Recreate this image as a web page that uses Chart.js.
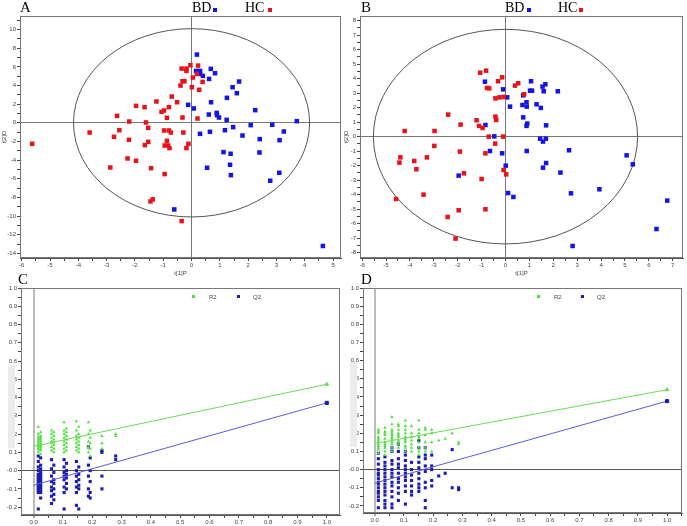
<!DOCTYPE html>
<html lang="en">
<head>
<meta charset="UTF-8">
<title>Score plots and permutation tests</title>
<script src="https://cdn.jsdelivr.net/npm/chart.js"></script>
<style>
    body {
        margin: 0;
        width: 687px;
        height: 526px;
        position: relative;
        overflow: hidden;
        background: #fff;
        font-family: "Liberation Sans", Arial, sans-serif;
    }
    canvas { position: absolute; }
    .panel {
        position: absolute;
        font-family: "Liberation Serif", "Times New Roman", serif;
        font-size: 15px;
        line-height: 15px;
        color: #000;
    }
    .leg {
        position: absolute;
        font-family: "Liberation Serif", "Times New Roman", serif;
        font-size: 14px;
        line-height: 14px;
        color: #000;
    }
    .sq { position: absolute; width: 4px; height: 4px; }
    .small { position: absolute; font-size: 6px; line-height: 6px; color: #444; }
    .mark { position: absolute; width: 3px; height: 3px; }
    .shade { position: absolute; background: #ececec; }
</style>
</head>
<body>
<canvas id="chartA" width="345" height="280" style="left:0;top:0"></canvas>
<canvas id="chartB" width="345" height="280" style="left:342px;top:0"></canvas>
<canvas id="chartC" width="345" height="264" style="left:0;top:262px"></canvas>
<canvas id="chartD" width="345" height="264" style="left:342px;top:262px"></canvas>

<!-- panel letters and legends -->
<div class="panel" style="left:20px;top:0">A</div>
<div class="leg" style="left:192px;top:1px">BD</div>
<div class="sq" style="left:213px;top:8px;background:#1414e6"></div>
<div class="leg" style="left:245px;top:1px">HC</div>
<div class="sq" style="left:268px;top:8px;background:#e6141a"></div>

<div class="panel" style="left:361px;top:0">B</div>
<div class="leg" style="left:505px;top:1px">BD</div>
<div class="sq" style="left:527px;top:8px;background:#1414e6"></div>
<div class="leg" style="left:558px;top:1px">HC</div>
<div class="sq" style="left:579px;top:8px;background:#e6141a"></div>

<div class="panel" style="left:18px;top:272px">C</div>
<div class="shade" style="left:8px;top:365px;width:7px;height:83px"></div>
<div class="mark" style="left:192px;top:295px;background:#55dd44"></div>
<div class="small" style="left:209px;top:294px">R2</div>
<div class="mark" style="left:237px;top:295px;background:#1c1cb0"></div>
<div class="small" style="left:253px;top:294px">Q2</div>

<div class="panel" style="left:361px;top:272px">D</div>
<div class="shade" style="left:350px;top:362px;width:7px;height:85px"></div>
<div class="mark" style="left:537px;top:295px;background:#55dd44"></div>
<div class="small" style="left:554px;top:294px">R2</div>
<div class="mark" style="left:581px;top:295px;background:#1c1cb0"></div>
<div class="small" style="left:597px;top:294px">Q2</div>

<script>
    // ---- A: score plot, [t1, t2] ----
    var aHC = [[-5.63,-2.25],[-3.60,-1.04],[-2.63,0.75],[-2.55,-0.79],[-2.74,-1.5],[-2.20,0.14],[-2.21,-1.82],
        [-1.96,1.82],[-1.66,1.68],[-1.61,0.04],[-1.53,-0.54],[-1.65,-2.39],[-1.53,-2.04],[-2.26,-3.82],
        [-1.96,-4.07],[-2.87,-4.79],[-1.43,-4.86],[-0.95,-5.5],[-1.45,-8.43],[-1.37,-8.21],[-0.35,-10.54],
        [-1.24,2.29],[-1.06,1.18],[-0.97,1.32],[-0.70,2.82],[-0.51,2.21],[-0.80,1.68],[-0.87,0.54],
        [-0.97,-0.82],[-0.80,-0.82],[-0.73,-1.04],[-0.87,-1.93],[-0.95,-2.43],[-0.83,-2.43],[-0.78,-2.71],
        [-0.29,-1.04],[-0.32,0.57],[-0.11,-2.25],[-0.18,-2.71],[-0.39,4.0],[-0.32,4.46],[-0.25,4.46],
        [-0.35,5.82],[-0.18,5.57],[-0.18,5.82],[-0.04,6.18],[0.23,6.14],[0.05,4.86],[0.01,3.82],
        [0.19,5.25],[0.39,4.39],[0.27,3.54],[0.21,0.46]];
    var aBD = [[0.19,7.32],[0.16,5.57],[0.30,5.57],[0.30,5.25],[0.40,5.04],[0.68,5.79],[0.83,5.32],
        [0.62,4.71],[1.45,3.82],[1.68,4.43],[1.60,3.18],[1.25,2.68],[0.69,2.21],[-0.12,1.93],[0.08,1.54],
        [0.61,0.89],[0.89,1.07],[0.90,0.82],[0.97,0.57],[1.24,0.32],[2.25,1.36],[2.09,-0.25],[2.85,-0.21],
        [3.72,0.18],[3.26,-0.93],[1.47,-0.46],[1.18,-0.79],[0.65,-0.96],[0.30,-1.18],[1.80,-1.36],
        [2.41,-1.75],[3.11,-1.86],[2.40,-3.18],[1.13,-3.14],[1.38,-3.32],[0.55,-4.82],[1.36,-4.5],
        [1.39,-5.61],[3.10,-5.36],[2.78,-6.21],[-0.61,-9.29],[4.64,-13.21]];
    var aEllipse = [4.17, 10.1];

    // ---- B: score plot ----
    var bHC = [[-4.58,-4.30],[-4.44,-1.79],[-4.40,-1.43],[-4.22,0.39],[-3.82,-1.68],[-3.73,-2.25],
        [-3.29,-1.43],[-3.43,-4.0],[-2.97,0.39],[-2.98,-0.64],[-2.40,1.52],[-1.88,0.83],[-1.91,-1.03],
        [-1.74,-2.53],[-1.96,-5.08],[-2.42,-5.54],[-2.09,-7.03],[-1.21,1.13],[-1.11,0.74],[-0.96,0.60],
        [-1.00,-2.92],[-0.84,-5.01],[-0.84,-1.15],[-0.70,0.0],[-0.43,-0.48],[-0.42,1.38],[-0.39,1.15],
        [-1.06,4.41],[-0.81,4.55],[-0.77,3.36],[-0.68,3.33],[-0.31,3.82],[-0.14,4.09],[-0.42,2.64],
        [-0.25,2.71],[-0.07,2.74],[-0.10,0.0],[-0.08,-2.30],[0.03,-2.60],[0.40,3.52],[0.53,3.68],[0.78,2.92]];
    var bBD = [[-0.86,3.79],[-0.10,3.26],[0.07,2.71],[0.19,2.07],[1.07,3.82],[1.03,3.17],[1.11,3.17],
        [1.67,3.61],[1.55,3.45],[1.60,3.13],[2.19,3.13],[0.74,2.85],[0.88,2.37],[0.71,2.18],[0.89,2.07],
        [1.30,2.23],[1.48,1.98],[0.74,1.33],[0.91,0.90],[0.88,0.74],[1.70,0.78],[-0.84,0.80],[-0.47,0.02],
        [-0.65,-0.99],[-0.14,-1.15],[0.89,-0.99],[1.45,-0.14],[1.57,-0.34],[1.69,-0.14],[2.66,-0.94],
        [1.70,-1.82],[1.57,-2.14],[0.01,-2.0],[-1.96,-2.69],[2.30,-2.48],[0.11,-3.89],[0.33,-4.16],
        [2.74,-3.91],[3.93,-3.63],[5.07,-1.29],[5.33,-1.91],[6.77,-4.41],[6.32,-6.37],[2.81,-7.54]];
    var bEllipse = [5.53, 7.4];

    // ---- C: permutation test (x = correlation of permuted y with original y) ----
    var cPermX = [0.016, 0.024, 0.061, 0.069, 0.104, 0.112, 0.146, 0.154, 0.187, 0.193, 0.233, 0.28];
    var cR2 = [
        [0.24,0.2,0.185,0.175,0.165,0.155,0.145,0.135,0.125,0.115,0.1],
        [0.21,0.19,0.18,0.17,0.16,0.15,0.14,0.13,0.12,0.11,0.09],
        [0.22,0.2,0.18,0.16,0.15,0.13,0.11],
        [0.21,0.19,0.17,0.155,0.14,0.12,0.1],
        [0.265,0.22,0.2,0.18,0.16,0.14,0.12,0.1],
        [0.23,0.21,0.19,0.17,0.15,0.13,0.11],
        [0.27,0.22,0.19,0.17,0.15,0.13,0.11],
        [0.24,0.2,0.18,0.16,0.14,0.12,0.1],
        [0.265,0.2,0.16,0.13,0.1],
        [0.22,0.18,0.15,0.12,0.08],
        [0.19,0.15,0.12],
        [0.2,0.19]];
    var cQ2 = [
        [0.08,0.05,0.02,0.0,-0.02,-0.03,-0.04,-0.05,-0.06,-0.07,-0.08,-0.09,-0.1,-0.11,-0.12,-0.21],
        [0.07,0.03,0.01,-0.01,-0.02,-0.03,-0.04,-0.05,-0.06,-0.07,-0.08,-0.09,-0.1,-0.11,-0.12,-0.15],
        [0.06,0.01,-0.03,-0.06,-0.09,-0.11,-0.14,-0.18],
        [0.03,-0.01,-0.05,-0.07,-0.1,-0.13,-0.16],
        [0.06,0.02,-0.01,-0.03,-0.05,-0.09,-0.12,-0.21],
        [0.04,0.0,-0.02,-0.04,-0.07,-0.1],
        [0.05,0.0,-0.03,-0.06,-0.09,-0.12,-0.19],
        [0.02,-0.02,-0.05,-0.08,-0.1,-0.21],
        [0.13,0.03,-0.03,-0.1,-0.14],
        [0.07,0.0,-0.06,-0.12,-0.15],
        [0.11,0.1,-0.03,-0.1],
        [0.08,0.06]];
    var cR2Line = [0.133, 0.473];   // intercept at x=0, original model at x=1
    var cQ2Line = [-0.08, 0.371];

    // ---- D: permutation test ----
    var dPermX = [0.0125, 0.035, 0.059, 0.081, 0.105, 0.126, 0.151, 0.173, 0.195, 0.219, 0.241, 0.265, 0.287];
    var dR2 = [
        [0.22,0.21,0.2,0.18,0.17,0.16,0.15,0.14,0.13,0.12,0.11,0.09],
        [0.23,0.21,0.2,0.19,0.17,0.15,0.14,0.13,0.12,0.1,0.08],
        [0.29,0.25,0.22,0.21,0.2,0.19,0.18,0.17,0.16,0.15,0.14,0.12,0.1],
        [0.25,0.24,0.22,0.2,0.19,0.18,0.16,0.15,0.14,0.12],
        [0.27,0.24,0.22,0.2,0.18,0.17,0.16,0.15,0.13,0.12,0.1],
        [0.24,0.2,0.18,0.16,0.14,0.12,0.1],
        [0.27,0.22,0.2,0.18,0.17,0.15,0.12,0.1,0.08],
        [0.23,0.22,0.19,0.15,0.12,0.1],
        [0.22,0.2,0.15,0.1],
        [0.16],
        [0.17],
        [0.2],
        [0.15,0.14]];
    var dQ2 = [
        [0.09,0.06,0.03,0.0,-0.02,-0.03,-0.05,-0.07,-0.08,-0.1,-0.12,-0.13,-0.15,-0.17,-0.21],
        [0.07,0.04,0.02,0.0,-0.02,-0.04,-0.06,-0.08,-0.1,-0.12,-0.14,-0.17,-0.19,-0.21],
        [0.12,0.1,0.05,0.03,0.0,-0.02,-0.04,-0.07,-0.09,-0.12,-0.15,-0.19,-0.21],
        [0.14,0.1,0.06,0.03,0.01,-0.02,-0.05,-0.07,-0.1,-0.13,-0.17],
        [0.1,0.08,0.05,0.02,0.0,-0.02,-0.04,-0.06,-0.09,-0.12,-0.19],
        [0.04,0.0,-0.03,-0.06,-0.09,-0.12,-0.14],
        [0.16,0.12,0.07,0.04,0.01,-0.02,-0.05,-0.08,-0.1,-0.12],
        [0.12,0.08,0.06,0.02,-0.01,-0.07,-0.1,-0.17,-0.21],
        [0.08,0.02,0.0,-0.06,-0.09],
        [-0.035],
        [-0.02],
        [0.11,-0.1],
        [-0.1,-0.11]];
    var dR2Line = [0.143, 0.44];
    var dQ2Line = [-0.075, 0.377];
    var fitX = [0, 1];

    var BLUE = '#1414e6', RED = '#e6141a', GREEN = '#55dd44', NAVY = '#1c1cb0';

    Chart.defaults.font.family = '"Liberation Sans", Arial, sans-serif';

    // frame round the plot area, plus the confidence ellipse on score plots
    var decor = {
        id: 'decor',
        beforeDatasetsDraw: function (chart, args, opts) {
            if (!opts.ellipse) return;
            var ctx = chart.ctx, x = chart.scales.x, y = chart.scales.y;
            var cx = x.getPixelForValue(0), cy = y.getPixelForValue(0);
            var rx = x.getPixelForValue(opts.ellipse[0]) - cx;
            var ry = cy - y.getPixelForValue(opts.ellipse[1]);
            ctx.save();
            ctx.strokeStyle = '#555';
            ctx.lineWidth = 1;
            ctx.beginPath();
            ctx.ellipse(cx, cy, rx, ry, 0, 0, Math.PI * 2);
            ctx.stroke();
            ctx.restore();
        },
        afterDraw: function (chart) {
            var ctx = chart.ctx, a = chart.chartArea;
            ctx.save();
            ctx.strokeStyle = '#777';
            ctx.lineWidth = 1;
            ctx.strokeRect(a.left + 0.5, a.top + 0.5, a.right - a.left - 1, a.bottom - a.top - 1);
            ctx.restore();
        }
    };

    function pts(list) {
        return list.map(function (p) { return {x: p[0], y: p[1]}; });
    }

    function columns(xs, cols) {
        var out = [];
        cols.forEach(function (col, i) {
            col.forEach(function (v) { out.push({x: xs[i], y: v}); });
        });
        return out;
    }

    function scale(o) {
        return {
            type: 'linear',
            min: o.min,
            max: o.max,
            afterFit: function (s) {
                if (o.w) s.width = o.w;
                if (o.h) s.height = o.h;
            },
            border: {color: '#555', width: 1},
            grid: {
                drawOnChartArea: true,
                color: function (c) { return c.tick && c.tick.value === 0 ? o.zc : 'rgba(0,0,0,0)'; },
                lineWidth: function (c) { return c.tick && c.tick.value === 0 ? o.zw : 1; },
                tickColor: '#444',
                tickLength: 3,
                tickWidth: 1
            },
            ticks: {
                stepSize: o.step,
                includeBounds: false,
                autoSkip: false,
                maxRotation: 0,
                padding: 1,
                color: '#444',
                font: {size: 6},
                callback: o.label
            },
            title: o.title ? {
                display: true,
                text: o.title,
                color: '#444',
                font: {size: 6},
                padding: o.tpad
            } : {display: false}
        };
    }

    function intLabel(every) {
        return function (v) {
            return Math.abs(v - Math.round(v)) < 1e-6 && Math.round(v) % every === 0 ? String(Math.round(v)) : '';
        };
    }

    function tenthLabel(zeroText) {
        return function (v) {
            if (Math.abs(v * 10 - Math.round(v * 10)) > 1e-6) return '';
            if (Math.abs(v) < 1e-9) return zeroText;
            return v.toFixed(1);
        };
    }

    function scoreChart(id, hc, bd, ell, xs, ys, pad) {
        new Chart(document.getElementById(id), {
            type: 'scatter',
            data: {
                datasets: [
                    {label: 'HC', data: pts(hc), pointStyle: 'rect', pointRadius: 3.2,
                     backgroundColor: RED, borderColor: RED, borderWidth: 0},
                    {label: 'BD', data: pts(bd), pointStyle: 'rect', pointRadius: 3.2,
                     backgroundColor: BLUE, borderColor: BLUE, borderWidth: 0}
                ]
            },
            options: {
                responsive: false,
                animation: false,
                devicePixelRatio: 1,
                layout: {padding: pad},
                plugins: {legend: {display: false}, tooltip: {enabled: false}, decor: {ellipse: ell}},
                scales: {x: scale(xs), y: scale(ys)}
            },
            plugins: [decor]
        });
    }

    function permChart(id, permX, r2, q2, r2Line, q2Line, xs, ys, pad) {
        new Chart(document.getElementById(id), {
            type: 'scatter',
            data: {
                datasets: [
                    {label: 'R2', data: [{x: fitX[0], y: r2Line[0]}, {x: fitX[1], y: r2Line[1]}], showLine: true,
                     borderColor: '#66dd55', borderWidth: 1, pointRadius: [0, 2], pointStyle: 'triangle',
                     backgroundColor: GREEN},
                    {label: 'Q2', data: [{x: fitX[0], y: q2Line[0]}, {x: fitX[1], y: q2Line[1]}], showLine: true,
                     borderColor: '#5a5ae0', borderWidth: 1, pointRadius: [0, 2.2], pointStyle: 'rect',
                     backgroundColor: NAVY, pointBorderColor: NAVY},
                    {label: 'R2 perm', data: columns(permX, r2), pointStyle: 'triangle', pointRadius: 2,
                     backgroundColor: GREEN, borderColor: GREEN, borderWidth: 0},
                    {label: 'Q2 perm', data: columns(permX, q2), pointStyle: 'rect', pointRadius: 2.2,
                     backgroundColor: NAVY, borderColor: NAVY, borderWidth: 0}
                ]
            },
            options: {
                responsive: false,
                animation: false,
                devicePixelRatio: 1,
                layout: {padding: pad},
                plugins: {legend: {display: false}, tooltip: {enabled: false}, decor: {}},
                scales: {x: scale(xs), y: scale(ys)}
            },
            plugins: [decor]
        });
    }

    scoreChart('chartA', aHC, aBD, aEllipse,
        {min: -6.06, max: 5.28, step: 0.5, label: intLabel(1), h: 22, zc: '#777', zw: 1,
         title: 't[1]P', tpad: {top: 0, bottom: 3}},
        {min: -14.5, max: 11.46, step: 1, label: intLabel(2), w: 20, zc: '#777', zw: 1,
         title: 't[2]O', tpad: {top: 1, bottom: 0}},
        {top: 16, right: 2, left: 0, bottom: 0});

    scoreChart('chartB', bHC, bBD, bEllipse,
        {min: -6.09, max: 7.43, step: 0.5, label: intLabel(1), h: 22, zc: '#777', zw: 1,
         title: 't[1]P', tpad: {top: 0, bottom: 3}},
        {min: -8.37, max: 8.32, step: 0.5, label: intLabel(1), w: 18, zc: '#777', zw: 1,
         title: 't[2]O', tpad: {top: 1, bottom: 0}},
        {top: 16, right: 3, left: 0, bottom: 0});

    permChart('chartC', cPermX, cR2, cQ2, cR2Line, cQ2Line,
        {min: -0.043, max: 1.045, step: 0.05, label: tenthLabel('0.0'), h: 11, zc: '#bbb', zw: 2},
        {min: -0.243, max: 1.0, step: 0.05, label: tenthLabel('-0.0'), w: 21, zc: '#555', zw: 1},
        {top: 26, right: 5, left: 0, bottom: 0});

    permChart('chartD', dPermX, dR2, dQ2, dR2Line, dQ2Line,
        {min: -0.04, max: 1.051, step: 0.05, label: tenthLabel('0.0'), h: 13, zc: '#bbb', zw: 2},
        {min: -0.239, max: 1.0, step: 0.05, label: tenthLabel('-0.0'), w: 21, zc: '#555', zw: 1},
        {top: 26, right: 4, left: 0, bottom: 0});
</script>
</body>
</html>
